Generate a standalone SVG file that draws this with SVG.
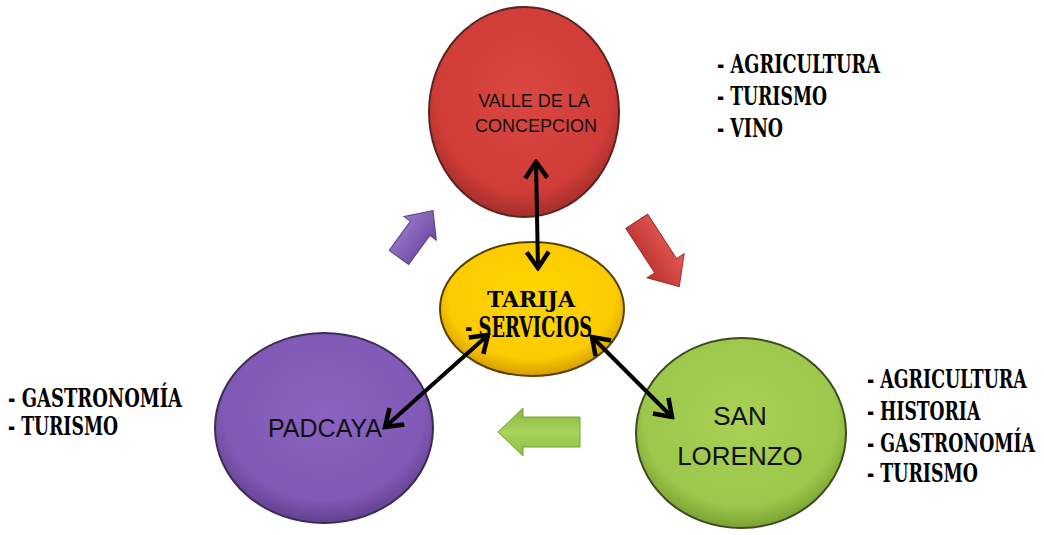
<svg xmlns="http://www.w3.org/2000/svg" width="1044" height="535" viewBox="0 0 1044 535">
<defs>
<radialGradient id="gRed" cx="50%" cy="42%" r="58%"><stop offset="0" stop-color="#da4742"/><stop offset="0.8" stop-color="#d03c38"/><stop offset="1" stop-color="#a32e2a"/></radialGradient>
<radialGradient id="gYel" cx="50%" cy="42%" r="58%"><stop offset="0" stop-color="#ffd500"/><stop offset="0.78" stop-color="#fccb00"/><stop offset="1" stop-color="#d49c00"/></radialGradient>
<radialGradient id="gPur" cx="50%" cy="42%" r="58%"><stop offset="0" stop-color="#8a64c0"/><stop offset="0.8" stop-color="#8058b5"/><stop offset="1" stop-color="#62418f"/></radialGradient>
<radialGradient id="gGrn" cx="50%" cy="42%" r="58%"><stop offset="0" stop-color="#a8d054"/><stop offset="0.8" stop-color="#9cc74a"/><stop offset="1" stop-color="#7aa132"/></radialGradient>
<linearGradient id="aPur" x1="0" y1="0" x2="0" y2="1"><stop offset="0" stop-color="#9a78cc"/><stop offset="1" stop-color="#6d4aa0"/></linearGradient>
<linearGradient id="aRed" x1="0" y1="0" x2="0" y2="1"><stop offset="0" stop-color="#e85a55"/><stop offset="1" stop-color="#b8302c"/></linearGradient>
<linearGradient id="aGrn" x1="0" y1="0" x2="0" y2="1"><stop offset="0" stop-color="#8cc040"/><stop offset="0.5" stop-color="#a8d45c"/><stop offset="1" stop-color="#86b53a"/></linearGradient>
<marker id="hd" markerUnits="userSpaceOnUse" markerWidth="22" markerHeight="26" viewBox="0 0 22 26" refX="19" refY="13" orient="auto-start-reverse">
<path d="M3,2 L19,13 L3,24" fill="none" stroke="#000" stroke-width="4.5"/>
</marker>
</defs>
<style>
.node{stroke-width:2}
.lbl{font-family:"Liberation Sans",Arial,sans-serif;fill:#111;text-anchor:middle}
.bold{font-family:"DejaVu Serif Condensed","DejaVu Serif",serif;font-weight:bold;font-stretch:condensed;fill:#000}
.con{stroke:#000;stroke-width:4;fill:none;marker-start:url(#hd);marker-end:url(#hd)}
</style>
<rect width="1044" height="535" fill="#fff"/>

<g id="deco-arrows">
<path transform="translate(416,234) rotate(-54)" d="M-29,-12 L7,-12 L7,-20 L29,0 L7,20 L7,12 L-29,12 Z" fill="url(#aPur)" stroke="#5b3d88" stroke-width="1"/>
<path transform="translate(658,254) rotate(57)" d="M-39,-13 L14,-13 L14,-22 L39,0 L14,22 L14,13 L-39,13 Z" fill="url(#aRed)" stroke="#9a2a26" stroke-width="1"/>
<path transform="translate(539,432) rotate(180)" d="M-41,-15 L16,-15 L16,-24 L41,0 L16,24 L16,15 L-41,15 Z" fill="url(#aGrn)" stroke="#78a232" stroke-width="1"/>
</g>

<g id="node-valle">
<ellipse class="node" cx="524" cy="112" rx="95" ry="105" fill="url(#gRed)" stroke="#5e2422"/>
<text class="lbl" font-size="18" x="534" y="107">VALLE DE LA</text>
<text class="lbl" font-size="18" x="536" y="132">CONCEPCION</text>
</g>

<g id="node-padcaya">
<ellipse class="node" cx="324" cy="428" rx="109" ry="95" fill="url(#gPur)" stroke="#3c2c55"/>
<text class="lbl" font-size="25" x="325" y="437">PADCAYA</text>
</g>

<g id="node-sanlorenzo">
<ellipse class="node" cx="741" cy="433" rx="105" ry="95" fill="url(#gGrn)" stroke="#3e4a22"/>
<text class="lbl" font-size="26" x="740" y="425">SAN</text>
<text class="lbl" font-size="26" x="740" y="465">LORENZO</text>
</g>

<g id="node-tarija">
<ellipse class="node" cx="532" cy="309" rx="92" ry="67" fill="url(#gYel)" stroke="#5a4000"/>
<text class="bold" font-size="23" x="487" y="307" textLength="88" lengthAdjust="spacingAndGlyphs">TARIJA</text>
<text class="bold" font-size="28" x="465" y="337" textLength="127" lengthAdjust="spacingAndGlyphs">- SERVICIOS</text>
</g>

<g id="connectors">
<line class="con" x1="536" y1="162" x2="538" y2="268"/>
<line class="con" x1="488" y1="335" x2="385" y2="427"/>
<line class="con" x1="592" y1="337" x2="672" y2="417"/>
</g>

<g id="list-valle">
<text class="bold" font-size="26" x="717" y="73" textLength="163" lengthAdjust="spacingAndGlyphs">- AGRICULTURA</text>
<text class="bold" font-size="26" x="717" y="105" textLength="110" lengthAdjust="spacingAndGlyphs">- TURISMO</text>
<text class="bold" font-size="26" x="717" y="137" textLength="66" lengthAdjust="spacingAndGlyphs">- VINO</text>
</g>

<g id="list-sanlorenzo" transform="translate(867,0) scale(0.75,1)">
<text class="bold" font-size="26" x="0" y="388" textLength="213" lengthAdjust="spacingAndGlyphs">- AGRICULTURA</text>
<text class="bold" font-size="26" x="0" y="420" textLength="151" lengthAdjust="spacingAndGlyphs">- HISTORIA</text>
<text class="bold" font-size="26" x="0" y="452" textLength="224" lengthAdjust="spacingAndGlyphs">- GASTRONOMÍA</text>
<text class="bold" font-size="26" x="0" y="482" textLength="148" lengthAdjust="spacingAndGlyphs">- TURISMO</text>
</g>

<g id="list-padcaya">
<text class="bold" font-size="26" x="8" y="407" textLength="174" lengthAdjust="spacingAndGlyphs">- GASTRONOMÍA</text>
<text class="bold" font-size="26" x="8" y="435" textLength="110" lengthAdjust="spacingAndGlyphs">- TURISMO</text>
</g>
</svg>
